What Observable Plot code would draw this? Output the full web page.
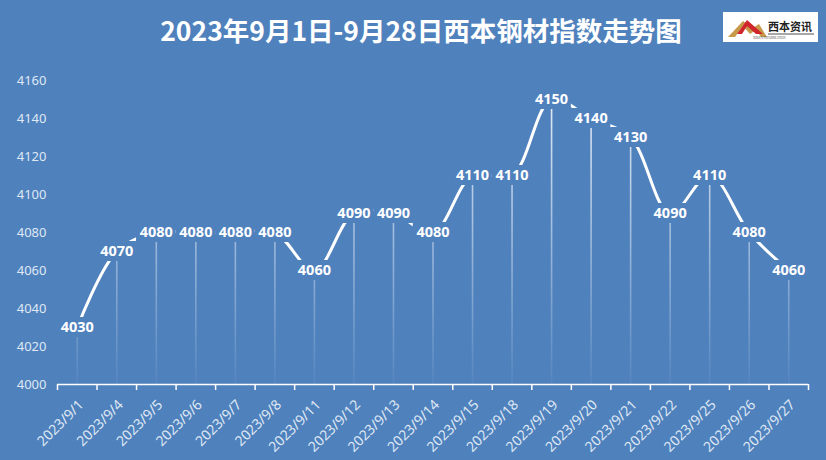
<!DOCTYPE html>
<html>
<head>
<meta charset="utf-8">
<script src="https://cdn.jsdelivr.net/npm/d3@7"></script>
<script src="https://cdn.jsdelivr.net/npm/@observablehq/plot@0.6"></script>
<style>
  html, body { margin: 0; padding: 0; }
  body { width: 826px; height: 460px; background: #4f81bd; overflow: hidden; }
  #wrap { position: relative; width: 826px; height: 460px; background: #4f81bd; }
  #title { position: absolute; left: 8px; top: 11px; width: 826px; text-align: center;
    font-family: "Noto Sans CJK SC", sans-serif; font-weight: bold; font-size: 26.5px; color: #fff; line-height: 38px; }
  #logo { position: absolute; left: 723px; top: 12px; }
  #chart { position: absolute; left: 0; top: 60px; }
</style>
</head>
<body>
<div id="wrap">
  <div id="title">2023年9月1日-9月28日西本钢材指数走势图</div>
  <svg id="logo" width="95" height="30" viewBox="0 0 95 30">
    <rect x="0" y="0" width="95" height="30" fill="#ffffff"/>
    <polygon points="5,25 20,9 30,16 36,12 44,25 38,25 33,18 27,22 20,14 12,25" fill="#c79a4a"/>
    <polygon points="14,22 24,8 40,22 33,22 24,14 19,22" fill="#d0262b"/>
    <text x="45" y="19" font-family="Noto Sans CJK SC" font-weight="bold" font-size="11" fill="#222">西本资讯</text>
    <line x1="45" y1="22" x2="91" y2="22" stroke="#222" stroke-width="0.8"/>
    <text x="30" y="27" font-family="Liberation Serif" font-size="3.2" fill="#555">XIBEN INFORMATION</text>
  </svg>
  <div id="chart"></div>
</div>
<script>
const dates = ["2023/9/1","2023/9/4","2023/9/5","2023/9/6","2023/9/7","2023/9/8","2023/9/11","2023/9/12","2023/9/13","2023/9/14","2023/9/15","2023/9/18","2023/9/19","2023/9/20","2023/9/21","2023/9/22","2023/9/25","2023/9/26","2023/9/27"];
const values = [4030,4070,4080,4080,4080,4080,4060,4090,4090,4080,4110,4110,4150,4140,4130,4090,4110,4080,4060];
const yTicks = [4000,4020,4040,4060,4080,4100,4120,4140,4160];

const bg = "#4f81bd";
const data = dates.map((d, i) => ({i, date: d, value: values[i]}));
const idx = dates.map((d, i) => i);
const boundaries = d3.range(dates.length + 1).map(i => i - 0.5);

const svg = Plot.plot({
  width: 826,
  height: 400,
  marginTop: 20,
  marginBottom: 76,
  marginLeft: 57,
  marginRight: 18,
  style: {background: "transparent", color: "#dfe8f4", fontSize: "13px", fontFamily: "'Noto Sans', sans-serif"},
  x: {type: "linear", domain: [-0.5, dates.length - 0.5]},
  y: {domain: [4000, 4160]},
  marks: [
    Plot.axisY(yTicks, {tickSize: 0, tickPadding: 11, tickFormat: d => String(d), fontSize: 13, label: null}),
    Plot.axisX(idx, {tickSize: 0, tickPadding: 14, tickRotate: -45, tickFormat: i => dates[i], fontSize: 14, dx: 4, dy: 4, label: null}),
    Plot.ruleX(data, {x: "i", y1: 4000, y2: "value", stroke: "url(#dropGrad)", strokeWidth: 1.6}),
    Plot.line(data, {x: "i", y: "value", curve: "catmull-rom", stroke: "#ffffff", strokeWidth: 3}),
    Plot.rect(data, {x1: d => d.i - 0.5, x2: d => d.i + 0.5, y1: "value", y2: "value", insetTop: -10, insetBottom: -10, fill: bg}),
    Plot.text(data, {x: "i", y: "value", text: d => String(d.value), fill: "#ffffff", fontWeight: "bold", fontSize: 14.5}),
    Plot.ruleY([4000], {stroke: "#ffffff", strokeWidth: 1.5}),
    Plot.ruleX(boundaries, {x: d => d, y1: 4000, y2: 4000, insetBottom: -6, stroke: "#ffffff", strokeWidth: 1.5})
  ]
});

d3.select(svg).insert("defs", ":first-child").html(
  '<linearGradient id="dropGrad" gradientUnits="userSpaceOnUse" x1="0" y1="20" x2="0" y2="324">' +
  '<stop offset="0" stop-color="#ffffff" stop-opacity="0.9"/>' +
  '<stop offset="1" stop-color="#ffffff" stop-opacity="0.04"/>' +
  '</linearGradient>');

document.getElementById("chart").appendChild(svg);
</script>
</body>
</html>
